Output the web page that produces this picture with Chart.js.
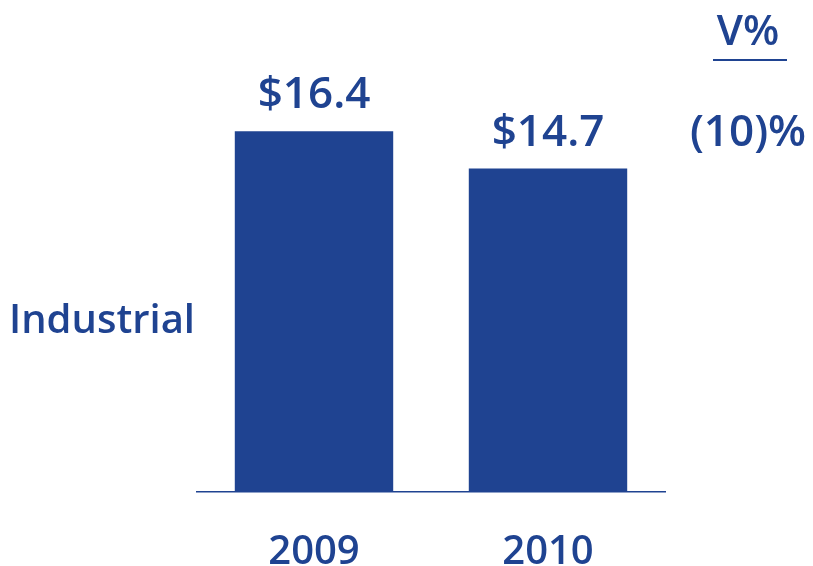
<!DOCTYPE html>
<html>
<head>
<meta charset="utf-8">
<script src="https://cdn.jsdelivr.net/npm/chart.js@4.4.0/dist/chart.umd.min.js"></script>
<style>
  html, body { margin: 0; padding: 0; background: #ffffff; }
  #wrap { width: 813px; height: 566px; }
</style>
</head>
<body>
<div id="wrap"><canvas id="barChart" width="813" height="566"></canvas></div>
<script>
// Industrial revenue, $B
const years = ['2009', '2010'];
const values = [16.4, 14.7];
const valueLabels = ['$16.4', '$14.7'];
const rowLabel = 'Industrial';
const varianceHeader = 'V%';
const varianceValue = '(10)%';

const BLUE = '#1F4391';
const FONT = "'Open Sans', 'Noto Sans', sans-serif";

// value labels, row label and variance column
const annotations = {
    id: 'annotations',
    afterDatasetsDraw(chart) {
        const ctx = chart.ctx;
        const meta = chart.getDatasetMeta(0);
        ctx.save();
        ctx.fillStyle = BLUE;
        ctx.textBaseline = 'alphabetic';

        ctx.font = '600 44px ' + FONT;
        ctx.textAlign = 'center';
        meta.data.forEach((bar, i) => {
            ctx.fillText(valueLabels[i], bar.x, bar.y - 23);
        });

        // variance column on the right, aligned with the 2010 value
        const lastBar = meta.data[meta.data.length - 1];
        const vx = 748;
        ctx.fillText(varianceValue, vx, lastBar.y - 23);

        ctx.font = '600 42px ' + FONT;
        ctx.fillText(varianceHeader, vx, 45);
        ctx.strokeStyle = BLUE;
        ctx.lineWidth = 2;
        ctx.beginPath();
        ctx.moveTo(713, 60);
        ctx.lineTo(787, 60);
        ctx.stroke();

        ctx.font = '600 40px ' + FONT;
        ctx.textAlign = 'left';
        ctx.fillText(rowLabel, 9, 333);
        ctx.restore();
    }
};

new Chart(document.getElementById('barChart'), {
    type: 'bar',
    data: {
        labels: years,
        datasets: [{
            data: values,
            backgroundColor: BLUE,
            borderWidth: 0,
            categoryPercentage: 1.0,
            barPercentage: 0.677
        }]
    },
    options: {
        responsive: false,
        animation: false,
        layout: {
            padding: { left: 197, right: 148, top: 52, bottom: 0 }
        },
        plugins: {
            legend: { display: false },
            tooltip: { enabled: false }
        },
        scales: {
            x: {
                afterFit(scale) { scale.height = 74; },
                grid: { display: false, drawTicks: false },
                border: { display: true, color: BLUE, width: 1.5 },
                ticks: {
                    color: BLUE,
                    padding: 37,
                    font: { family: FONT, size: 40, weight: '600' }
                }
            },
            y: {
                display: false,
                min: 0,
                max: 20
            }
        }
    },
    plugins: [annotations]
});
</script>
</body>
</html>
